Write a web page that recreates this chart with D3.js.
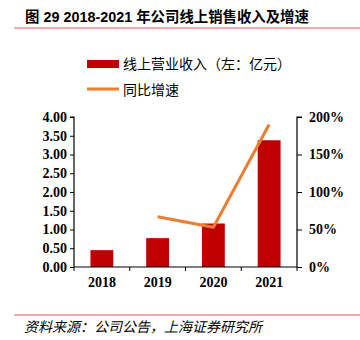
<!DOCTYPE html>
<html>
<head>
<meta charset="utf-8">
<script src="https://cdn.jsdelivr.net/npm/d3@7"></script>
<style>
  html, body { margin: 0; padding: 0; background: #fff; }
  svg { display: block; }
</style>
</head>
<body>
<svg id="chart" width="360" height="340"></svg>
<script>
// Online revenue (100M CNY) and YoY growth, 2018-2021
const years = ["2018", "2019", "2020", "2021"];
const revenue = [0.45, 0.77, 1.16, 3.38];
const growth = [null, 67, 53, 190];
const leftTicks = [0, 0.5, 1, 1.5, 2, 2.5, 3, 3.5, 4];
const rightTicks = [0, 50, 100, 150, 200];

const cjk = '"Noto Sans CJK SC", sans-serif';
const serif = '"Liberation Serif", "Times New Roman", serif';

const svg = d3.select("#chart");

// Title and rules
svg.append("text")
  .attr("x", 25).attr("y", 22)
  .attr("font-family", '"Liberation Sans", Arial, ' + cjk)
  .attr("font-weight", "bold").attr("font-size", 14.4).attr("fill", "#000")
  .text("图 29 2018-2021 年公司线上销售收入及增速");
svg.append("line").attr("x1", 14).attr("x2", 360).attr("y1", 28).attr("y2", 28)
  .attr("stroke", "#F28B8B").attr("stroke-width", 1.5);
svg.append("line").attr("x1", 14).attr("x2", 360).attr("y1", 315).attr("y2", 315)
  .attr("stroke", "#F28B8B").attr("stroke-width", 1.5);
svg.append("text")
  .attr("x", 24).attr("y", 332)
  .attr("font-family", cjk).attr("font-style", "italic").attr("font-size", 14).attr("fill", "#000")
  .text("资料来源：公司公告，上海证券研究所");

// Legend
const lg = svg.append("g").attr("font-family", cjk).attr("font-size", 14);
lg.append("rect").attr("x", 87).attr("y", 60).attr("width", 32).attr("height", 8).attr("fill", "#C00000");
lg.append("text").attr("x", 123).attr("y", 69).text("线上营业收入（左：亿元）");
lg.append("line").attr("x1", 87).attr("x2", 119).attr("y1", 89).attr("y2", 89)
  .attr("stroke", "#ED7D31").attr("stroke-width", 3);
lg.append("text").attr("x", 123).attr("y", 94.5).text("同比增速");

// Scales
const plotLeft = 74, plotRight = 297, plotTop = 117, plotBottom = 267;
const x = d3.scaleBand().domain(years).range([plotLeft, plotRight]).paddingInner(0.59).paddingOuter(0.295);
const xBand = d3.scaleBand().domain(years).range([plotLeft, plotRight]);
const yL = d3.scaleLinear().domain([0, 4]).range([plotBottom, plotTop]);
const yR = d3.scaleLinear().domain([0, 200]).range([plotBottom, plotTop]);

// Bars
svg.append("g").selectAll("rect").data(years).join("rect")
  .attr("x", d => x(d))
  .attr("width", x.bandwidth())
  .attr("y", (d, i) => yL(revenue[i]))
  .attr("height", (d, i) => yL(0) - yL(revenue[i]))
  .attr("fill", "#C00000");

// Left axis
const axL = svg.append("g").attr("transform", `translate(${plotLeft},0)`)
  .call(d3.axisLeft(yL).tickValues(leftTicks).tickFormat(d3.format(".2f")).tickSize(4));
// Right axis
const axR = svg.append("g").attr("transform", `translate(${plotRight},0)`)
  .call(d3.axisRight(yR).tickValues(rightTicks).tickFormat(d => d + "%").tickSize(5));
// Bottom axis with tick marks at band boundaries
const axB = svg.append("g").attr("transform", `translate(0,${plotBottom})`)
  .call(d3.axisBottom(x).tickSize(0).tickPadding(10));
axB.selectAll(".tick text").attr("dy", "0.71em");
const boundaries = years.map(d => xBand(d)).concat([plotRight]);
axB.selectAll(".bnd").data(boundaries).join("line").attr("class", "bnd")
  .attr("x1", d => d).attr("x2", d => d).attr("y1", 0).attr("y2", 4)
  .attr("stroke", "#000");

[axL, axR, axB].forEach(a => {
  a.select(".domain").attr("stroke", "#000").attr("stroke-width", 1.2);
  a.selectAll(".tick line").attr("stroke", "#000");
  a.selectAll(".tick text").attr("font-family", serif).attr("font-weight", "bold")
    .attr("font-size", 14).attr("fill", "#000");
});
axL.select(".domain").attr("d", `M-4,${plotTop}H0V${plotBottom}`);
axR.select(".domain").attr("d", `M5,${plotTop}H0V${plotBottom}`);
axB.select(".domain").attr("d", `M${plotLeft},0H${plotRight}`);
axR.selectAll(".tick text").attr("x", 12);

// Growth line
const pts = years.map((d, i) => [xBand(d) + xBand.bandwidth() / 2, growth[i]]).filter(p => p[1] != null);
svg.append("path")
  .attr("d", d3.line().x(p => p[0]).y(p => yR(p[1]))(pts))
  .attr("fill", "none").attr("stroke", "#ED7D31").attr("stroke-width", 3);
</script>
</body>
</html>
